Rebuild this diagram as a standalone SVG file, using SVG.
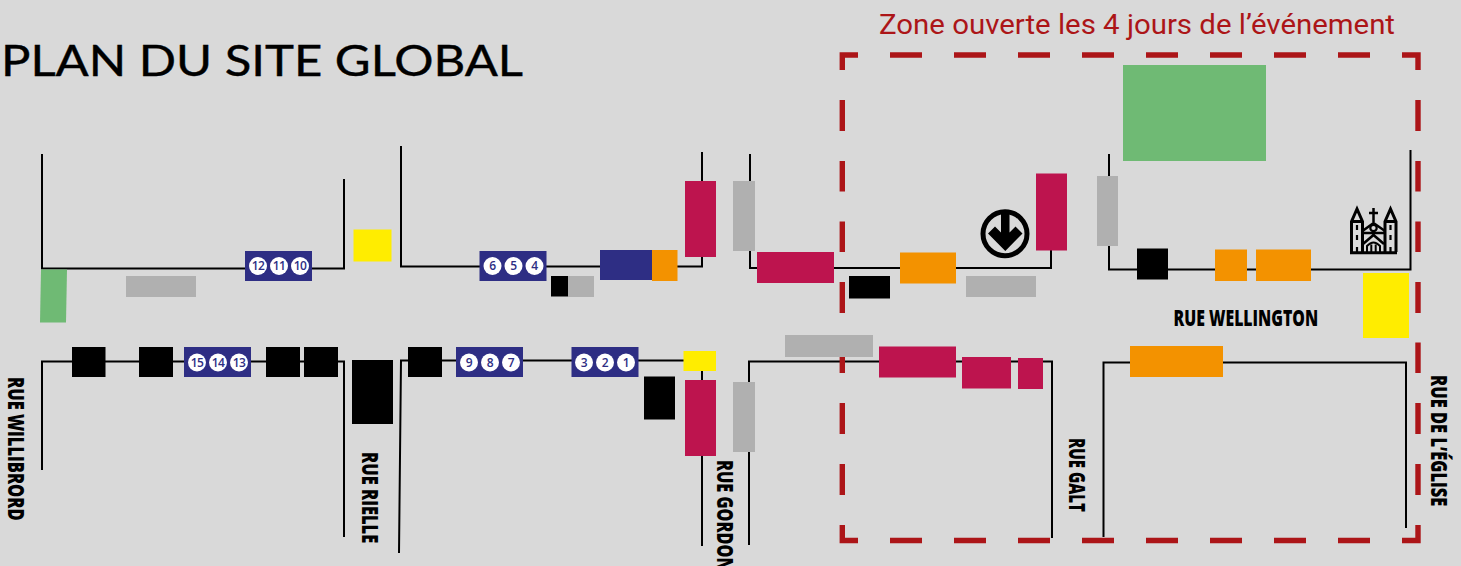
<svg xmlns="http://www.w3.org/2000/svg" width="1461" height="566" viewBox="0 0 1461 566">
<style>
.st{fill:none;stroke:#000;stroke-width:2;stroke-linejoin:miter}
.z{fill:none;stroke:#ac1518;stroke-width:5.400}
.bk{fill:#000}.gy{fill:#b0b0b0}.cr{fill:#bd144e}.or{fill:#f39200}.ye{fill:#ffed00}.gr{fill:#6fba74}.bl{fill:#2e2e84}
.c{fill:#fff}
.n{font-family:"Open Sans",sans-serif;font-size:12px;font-weight:600;fill:#2e2e84;text-anchor:middle;letter-spacing:-.6px}
.r{font-family:"Open Sans",sans-serif;font-weight:800;font-size:22px;fill:#000}
</style>
<rect width="1461" height="566" fill="#d9d9d9"/>
<g id="connectors">
<path class="st" d="M42 154V268.500H344V179"/>
<path class="st" d="M401 146V266.500H702V152"/>
<path class="st" d="M750 154V268H1051V240"/>
<path class="st" d="M1109 154V269.500H1410.500V150"/>
<path class="st" d="M42 470V361.500H344V537"/>
<path class="st" d="M399 553L401 360.500H702V546"/>
<path class="st" d="M749 545V361.500H1052V538"/>
<path class="st" d="M1103.500 537V362.500H1406V528"/>
</g>
<g id="zone">
<path class="z" d="M842.300 70V55H858M890 55H922M954 55H986M1018 55H1050M1082 55H1114M1146 55H1178M1210 55H1242M1274 55H1306M1338 55H1370M1402 55H1418V70"/>
<path class="z" d="M842.300 100V131M842.300 161V191.500M842.300 221.500V252M842.300 282V313M842.300 342.500V373M842.300 403V434M842.300 464V495M842.300 525V540.500H858M890 540.500H922M954 540.500H986M1018 540.500H1050M1082 540.500H1114M1146 540.500H1178M1210 540.500H1242M1274 540.500H1306M1338 540.500H1370M1402 540.500H1418V525"/>
<path class="z" d="M1418 100V131M1418 161V191.500M1418 221.500V252M1418 282V313M1418 342.500V373M1418 403V434M1418 464V495"/>
<text x="1137" y="34" font-family="Roboto,sans-serif" font-weight="400" font-size="28" fill="#ac1518" text-anchor="middle" textLength="516" lengthAdjust="spacingAndGlyphs">Zone ouverte les 4 jours de l’événement</text>
</g>
<g id="title"><text x="1" y="76" font-family="Lato,sans-serif" font-size="43" fill="#000" stroke="#000" stroke-width=".4" textLength="522" lengthAdjust="spacingAndGlyphs">PLAN DU SITE GLOBAL</text></g>
<g id="green-areas">
<path class="gr" d="M1123 65L1266 65V161L1123 161Z"/>
<path class="gr" d="M41 269.500H67L66 322.500H40Z"/>
</g>
<g id="grey-blocks">
<rect class="gy" x="126" y="276" width="70" height="21"/>
<rect class="gy" x="568" y="276" width="26" height="21"/>
<rect class="gy" x="733" y="181" width="22" height="70"/>
<rect class="gy" x="733" y="382" width="22" height="70"/>
<rect class="gy" x="966" y="276" width="70" height="21"/>
<rect class="gy" x="1097" y="176" width="21" height="70"/>
<rect class="gy" x="785" y="335" width="88" height="22"/>
</g>
<g id="crimson-blocks">
<rect class="cr" x="685" y="181" width="31" height="76"/>
<rect class="cr" x="685" y="380" width="31" height="76"/>
<rect class="cr" x="757" y="252" width="77" height="31"/>
<rect class="cr" x="1036" y="173.500" width="31" height="77"/>
<rect class="cr" x="879" y="346.500" width="77" height="31"/>
<rect class="cr" x="962" y="357" width="49" height="31.500"/>
<rect class="cr" x="1018" y="358" width="25" height="31"/>
</g>
<g id="orange-blocks">
<rect class="or" x="652" y="250" width="25.500" height="31"/>
<rect class="or" x="900" y="252.500" width="56" height="31"/>
<rect class="or" x="1215" y="249.500" width="32" height="31.500"/>
<rect class="or" x="1256" y="249.500" width="55" height="31.500"/>
<rect class="or" x="1130" y="346" width="93" height="31"/>
</g>
<g id="yellow-blocks">
<rect class="ye" x="353.500" y="229.500" width="38" height="32"/>
<rect class="ye" x="683.500" y="351" width="32.500" height="20"/>
<rect class="ye" x="1363" y="273" width="46" height="65"/>
</g>
<g id="black-blocks">
<rect class="bk" x="72" y="347" width="33.500" height="30"/>
<rect class="bk" x="139" y="347" width="34" height="30"/>
<rect class="bk" x="266" y="347" width="34" height="30"/>
<rect class="bk" x="304" y="347" width="34" height="30"/>
<rect class="bk" x="352" y="360" width="41" height="64"/>
<rect class="bk" x="408" y="347" width="34" height="30"/>
<rect class="bk" x="551" y="276" width="17" height="20.500"/>
<rect class="bk" x="644" y="376.500" width="31" height="43"/>
<rect class="bk" x="849" y="276" width="41" height="22.500"/>
<rect class="bk" x="1137" y="248.500" width="31" height="31"/>
</g>
<g id="blue-block"><rect class="bl" x="600" y="250" width="52" height="30"/></g>
<g id="stands-12-10">
<rect class="bl" x="245" y="251" width="67" height="30"/>
<circle class="c" cx="258" cy="266" r="9"/><circle class="c" cx="279" cy="266" r="9"/><circle class="c" cx="300" cy="266" r="9"/>
<text class="n" x="258" y="270.300">12</text><text class="n" x="279" y="270.300">11</text><text class="n" x="300" y="270.300">10</text>
</g>
<g id="stands-6-4">
<rect class="bl" x="479.500" y="251" width="67" height="30"/>
<circle class="c" cx="492.500" cy="266" r="9"/><circle class="c" cx="513.500" cy="266" r="9"/><circle class="c" cx="534.500" cy="266" r="9"/>
<text class="n" x="492.500" y="270.300">6</text><text class="n" x="513.500" y="270.300">5</text><text class="n" x="534.500" y="270.300">4</text>
</g>
<g id="stands-15-13">
<rect class="bl" x="184" y="347" width="67" height="30"/>
<circle class="c" cx="197" cy="362.500" r="9"/><circle class="c" cx="218" cy="362.500" r="9"/><circle class="c" cx="239" cy="362.500" r="9"/>
<text class="n" x="197" y="366.800">15</text><text class="n" x="218" y="366.800">14</text><text class="n" x="239" y="366.800">13</text>
</g>
<g id="stands-9-7">
<rect class="bl" x="456" y="347" width="67" height="30"/>
<circle class="c" cx="469" cy="362.500" r="9"/><circle class="c" cx="490" cy="362.500" r="9"/><circle class="c" cx="511" cy="362.500" r="9"/>
<text class="n" x="469" y="366.800">9</text><text class="n" x="490" y="366.800">8</text><text class="n" x="511" y="366.800">7</text>
</g>
<g id="stands-3-1">
<rect class="bl" x="571.500" y="347" width="67" height="30"/>
<circle class="c" cx="584" cy="362.500" r="9"/><circle class="c" cx="605" cy="362.500" r="9"/><circle class="c" cx="626" cy="362.500" r="9"/>
<text class="n" x="584" y="366.800">3</text><text class="n" x="605" y="366.800">2</text><text class="n" x="626" y="366.800">1</text>
</g>
<g id="metro">
<circle cx="1005" cy="233.700" r="22" fill="none" stroke="#000" stroke-width="5"/>
<path d="M1001 212H1009.500V232.500L1015.500 226.500L1022.500 233.500L1005.300 251L988 233.500L995 226.500L1001 232.500Z" fill="#000"/>
</g>
<g id="church" fill="none" stroke="#000" stroke-width="3">
<path d="M1350 252.700H1397M1351.500 252V221.500L1357 209L1362.500 221.500V252M1351.500 221.500H1362.500M1385 252V221.500L1390.500 209L1396 221.500V252M1385 221.500H1396"/>
<path stroke-width="2.500" d="M1362.500 231L1373.500 223L1385 231M1362.500 233H1385M1363 244L1373.500 235L1384 244"/>
<circle cx="1373.500" cy="228" r="3.200" stroke-width="2.200"/>
<path stroke-width="2.500" d="M1373.500 208V222M1369 213H1378"/>
<path stroke-width="2" d="M1367 252V246Q1373.500 239 1380 246V252M1371.300 244.500V252M1375.700 244.500V252"/>
<path stroke-width="2.200" d="M1357 225V230M1357 235V240M1357 247V252M1390.500 225V230M1390.500 235V240M1390.500 247V252"/>
</g>
<g id="street-labels">
<text class="r" transform="translate(1173.500 326) scale(.72 1)">RUE WELLINGTON</text>
<text class="r" transform="translate(8 377) rotate(90) scale(.75 1)">RUE WILLIBRORD</text>
<text class="r" transform="translate(362 452) rotate(90) scale(.75 1)">RUE RIELLE</text>
<text class="r" transform="translate(717 460) rotate(90) scale(.74 1)">RUE GORDON</text>
<text class="r" transform="translate(1069 438) rotate(90) scale(.69 1)">RUE GALT</text>
<text class="r" transform="translate(1431 375) rotate(90) scale(.75 1)">RUE DE L’ÉGLISE</text>
</g>
</svg>
